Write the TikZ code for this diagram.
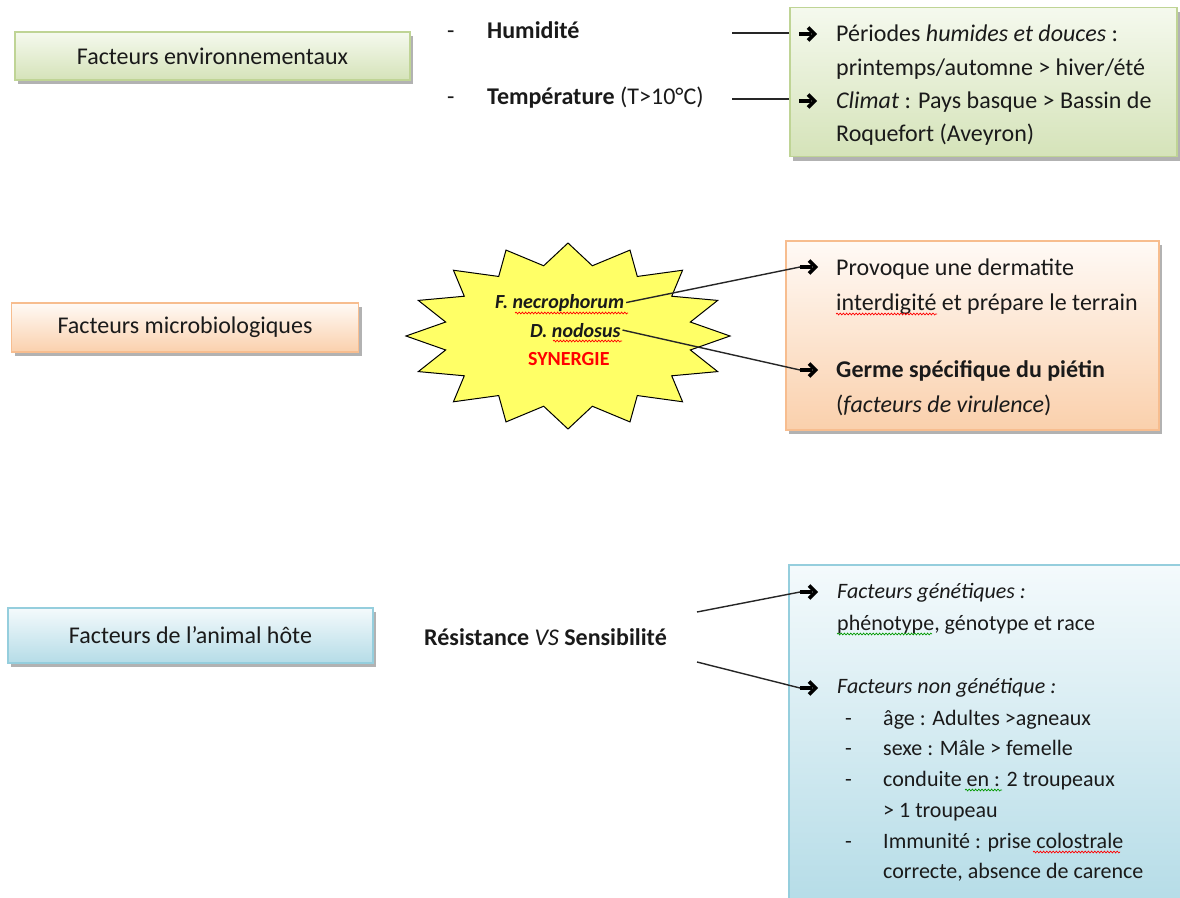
\documentclass[tikz,border=0pt]{standalone}
\usepackage{fontspec}
\setmainfont{Carlito}
\usetikzlibrary{shadows,decorations.pathmorphing}

\definecolor{gTop}{HTML}{F5F9EE}
\definecolor{gBot}{HTML}{D5E3B9}
\definecolor{gLine}{HTML}{BFD495}
\definecolor{oTop}{HTML}{FFFAF6}
\definecolor{oBot}{HTML}{FAD0AC}
\definecolor{oLine}{HTML}{F7BD8F}
\definecolor{bTop}{HTML}{F4FAFC}
\definecolor{bBot}{HTML}{B5DCE7}
\definecolor{bLine}{HTML}{95CEDD}
\definecolor{starY}{HTML}{FFFF66}
\definecolor{txt}{HTML}{1A1A1A}

\begin{document}
\begin{tikzpicture}[x=1pt,y=-1pt,
  box/.style={draw, line width=1.2pt, inner sep=0pt,
    drop shadow={shadow xshift=3pt, shadow yshift=-4pt, opacity=0.3, fill=black}},
  gbox/.style={box, draw=gLine, top color=gTop, bottom color=gBot},
  obox/.style={box, draw=oLine, top color=oTop, bottom color=oBot},
  bbox/.style={box, draw=bLine, top color=bTop, bottom color=bBot},
  head/.style={font=\fontsize{24}{28}\selectfont, text=txt},
  body/.style={anchor=base west, inner sep=0pt, font=\fontsize{24}{28}\selectfont, text=txt},
  hbody/.style={body, font=\fontsize{22}{26}\selectfont},
  sbody/.style={body, font=\fontsize{20}{24}\selectfont},
  arrsym/.style={anchor=west, inner sep=0pt, outer sep=0pt, minimum width=21pt, minimum height=18pt,
    path picture={
      \fill ([yshift=-2pt]path picture bounding box.west) rectangle ([xshift=12pt,yshift=2pt]path picture bounding box.west);
      \draw[line width=3.8pt, line join=miter, miter limit=10]
        ([xshift=9pt,yshift=6.5pt]path picture bounding box.west) --
        ([xshift=15.5pt]path picture bounding box.west) --
        ([xshift=9pt,yshift=-6.5pt]path picture bounding box.west);
    }},
  conn/.style={draw=black!85, line width=1.4pt},
  squig/.style={decorate, decoration={snake, amplitude=0.9pt, segment length=3.2pt}, line width=0.7pt},
]
\useasboundingbox (0,0) rectangle (1180,897);
\fill[white] (0,0) rectangle (1180,897);

% ---------- boxes ----------
\node[gbox, head, minimum width=395pt, minimum height=48pt] (envh) at (212.5,56) {Facteurs environnementaux};
\node[gbox, minimum width=387pt, minimum height=149pt] (envd) at (983.5,82) {};

\node[obox, head, minimum width=347pt, minimum height=49pt] (mich) at (185,327.5) {Facteurs microbiologiques};
\node[obox, minimum width=373pt, minimum height=189pt] (micd) at (972.5,335.5) {};

\node[bbox, head, minimum width=365pt, minimum height=55pt] (hosth) at (190.5,635.5) {Facteurs de l’animal hôte};
\node[bbox, minimum width=396pt, minimum height=340pt] (hostd) at (987,735) {};

% ---------- starburst ----------
\draw[line width=1pt, fill=starY]
  plot[samples at={0,...,31}]
  ({568+162*ifthenelse(mod(\x,2)==0,1,0.77)*sin(\x*11.25)},
   {336-93*ifthenelse(mod(\x,2)==0,1,0.77)*cos(\x*11.25)}) -- cycle;

% ---------- environment texts ----------
\node[body] (d1) at (447,38) {-};
\node[body] (hum) at (487,38) {\textbf{Humidité}};
\node[body] (d2) at (447,104) {-};
\node[body] (temp) at (487,104) {\textbf{Température} (T>10°C)};

\node[arrsym] (aE1) at (799,34) {};
\node[body] (tE1) at (836,41) {Périodes \textit{humides et douces} :};
\node[body] (tE2) at (836,75) {printemps/automne > hiver/été};
\node[arrsym] (aE2) at (799,101) {};
\node[body] (tE3) at (836,108) {\textit{Climat} : Pays basque > Bassin de};
\node[body] (tE4) at (836,141) {Roquefort (Aveyron)};

\coordinate (cH) at (732,33);
\coordinate (cT) at (732,99);
\draw[conn] (cH) -- (cH -| envd.west);
\draw[conn] (cT) -- (cT -| envd.west);

% ---------- microbiological texts ----------
\node[sbody, outer sep=2pt] (necro) at (493,308) {\textbf{\textit{F. necrophorum}}};
\node[sbody, outer sep=2pt] (nodo) at (528,337) {\textbf{\textit{D. nodosus}}};
\node[sbody, text=red] (syn) at (528,365) {\textbf{SYNERGIE}};

\node[arrsym] (aM1) at (800,267) {};
\node[body] (tM1) at (836,275) {Provoque une dermatite};
\node[body] (tM2) at (836,310) {interdigité et prépare le terrain};
\node[arrsym] (aM2) at (800,370) {};
\node[body] (tM3) at (836,377) {\textbf{Germe spécifique du piétin}};
\node[body] (tM4) at (836,412) {(\textit{facteurs de virulence})};

\draw[conn] (necro.east) -- (aM1.west);
\draw[conn] (nodo.east) -- (aM2.west);

% ---------- host texts ----------
\node[body] (res) at (424,645) {\textbf{Résistance} \textit{VS} \textbf{Sensibilité}};

\node[arrsym] (aH1) at (800,592) {};
\node[hbody] (tH1) at (837,598) {\textit{Facteurs génétiques :}};
\node[hbody] (tH2) at (837,630) {phénotype, génotype et race};
\node[arrsym] (aH2) at (800,688) {};
\node[hbody] (tH3) at (837,693) {\textit{Facteurs non génétique :}};
\node[hbody] (hd1) at (845,725) {-};
\node[hbody] (tH4) at (883,725) {âge : Adultes >agneaux};
\node[hbody] (hd2) at (845,755) {-};
\node[hbody] (tH5) at (883,755) {sexe : Mâle > femelle};
\node[hbody] (hd3) at (845,786) {-};
\node[hbody] (tH6) at (883,786) {conduite en  : 2 troupeaux};
\node[hbody] (tH7) at (883,817) {> 1 troupeau};
\node[hbody] (hd4) at (845,848) {-};
\node[hbody] (tH8) at (883,848) {Immunité : prise colostrale};
\node[hbody] (tH9) at (883,878) {correcte, absence de carence};

\coordinate (r1) at (697,612);
\coordinate (r2) at (697,662);
\draw[conn] (r1) -- (aH1.west);
\draw[conn] (r2) -- (aH2.west);

% ---------- spell-check underlines ----------
\draw[squig, red] (515,313) -- (628,313);
\draw[squig, red] (553,341) -- (622,341);
\draw[squig, red] (836,314) -- (937,314);
\draw[squig, green!60!black] (837,634) -- (932,634);
\draw[squig, green!60!black] (965,790) -- (1002,790);
\draw[squig, red] (1033,852) -- (1120,852);
\end{tikzpicture}
\end{document}
